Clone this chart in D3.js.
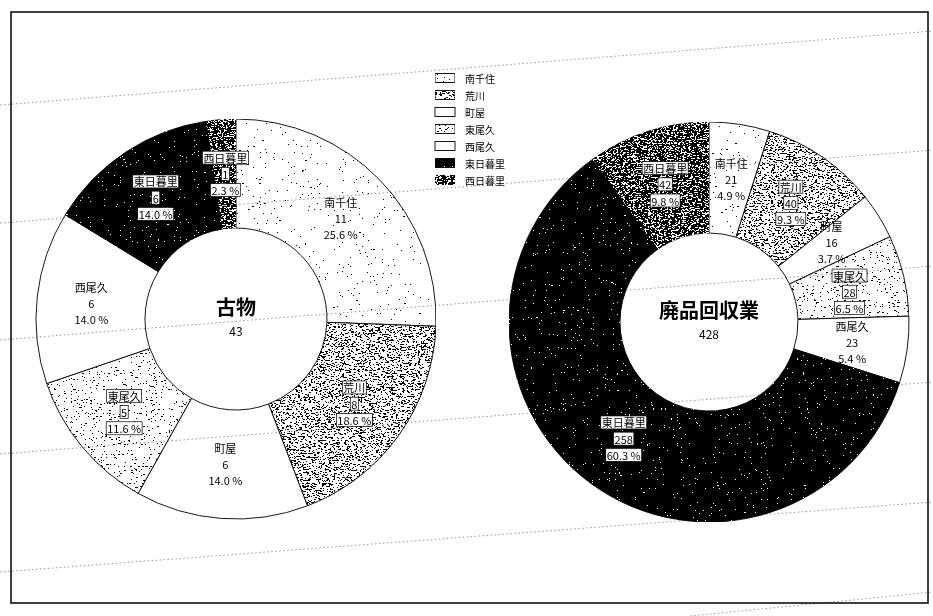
<!DOCTYPE html>
<html>
<head>
<meta charset="utf-8">
<script src="https://cdn.jsdelivr.net/npm/d3@7"></script>
<style>
  body { margin: 0; background: #fff; }
  svg { display: block; }
  text { font-family: "Noto Sans CJK JP", "Noto Sans", sans-serif; fill: #000; }
</style>
</head>
<body>
<svg id="chart" width="933" height="616"></svg>
<script>
// Districts (legend order, also slice order clockwise from 12 o'clock)
const areas = ["南千住", "荒川", "町屋", "東尾久", "西尾久", "東日暮里", "西日暮里"];
// Counts per district
const kobutsuValues = [11, 8, 6, 5, 6, 6, 1];        // 古物
const haihinValues  = [21, 40, 16, 28, 23, 258, 42]; // 廃品回収業
const chartTitles = ["古物", "廃品回収業"];

// Hatch texture used for each district, in the same order as `areas`
const areaTextures = ["sparse", "dense", "plain", "medium", "plain", "black", "dark"];

const textureSpec = {
  sparse: { base: "#fff", ink: "#000", cover: 0.25, seed: 3,  freq: "0.35 1.3" },
  medium: { base: "#fff", ink: "#000", cover: 0.31, seed: 7,  freq: "0.4 1.3" },
  dense:  { base: "#fff", ink: "#000", cover: 0.42, seed: 11, freq: "0.45 1.3" },
  dark:   { base: "#000", ink: "#fff", cover: 0.45, seed: 5,  freq: "0.5 1.3" },
  black:  { base: "#000", ink: "#fff", cover: 0.25, seed: 9,  freq: "0.5 1.4" },
  plain:  { base: "#fff" }
};

const svg = d3.select("#chart");
const defs = svg.append("defs");

// Stipple filters: thresholded noise specks clipped to the shape
Object.entries(textureSpec).forEach(([key, t]) => {
  if (key === "plain") return;
  const f = defs.append("filter")
    .attr("id", "tex-" + key)
    .attr("color-interpolation-filters", "sRGB")
    .attr("x", 0).attr("y", 0).attr("width", 1).attr("height", 1);
  f.append("feTurbulence")
    .attr("type", "fractalNoise")
    .attr("baseFrequency", t.freq)
    .attr("numOctaves", 2)
    .attr("seed", t.seed)
    .attr("result", "noise");
  f.append("feColorMatrix")
    .attr("in", "noise").attr("type", "matrix")
    .attr("values", "0 0 0 0 0  0 0 0 0 0  0 0 0 0 0  -1 0 0 0 1")
    .attr("result", "inv");
  const n = 100, k = Math.round(t.cover * n);
  const table = d3.range(n).map(i => (i >= n - k ? 1 : 0)).join(" ");
  f.append("feComponentTransfer").attr("in", "inv").attr("result", "mask")
    .append("feFuncA").attr("type", "discrete").attr("tableValues", table);
  f.append("feFlood").attr("flood-color", t.ink).attr("result", "ink");
  f.append("feComposite").attr("in", "ink").attr("in2", "mask").attr("operator", "in").attr("result", "specks");
  f.append("feComposite").attr("in", "specks").attr("in2", "SourceAlpha").attr("operator", "in").attr("result", "clipped");
  const m = f.append("feMerge");
  m.append("feMergeNode").attr("in", "SourceGraphic");
  m.append("feMergeNode").attr("in", "clipped");
});

const texOf = d3.scaleOrdinal().domain(areas).range(areaTextures);
const fillOf = name => textureSpec[texOf(name)].base;
const filterOf = name => texOf(name) === "plain" ? null : `url(#tex-${texOf(name)})`;

// Outer frame
svg.append("rect")
  .attr("x", 11).attr("y", 12).attr("width", 917).attr("height", 591)
  .attr("fill", "#fff").attr("stroke", "#000").attr("stroke-width", 1.5);

const donuts = [
  { title: chartTitles[0], values: kobutsuValues, cx: 236, cy: 319, ro: 200, ri: 91 },
  { title: chartTitles[1], values: haihinValues,  cx: 709, cy: 322, ro: 200, ri: 89 }
];

const pie = d3.pie().sort(null).value(d => d.value).startAngle(0).endAngle(2 * Math.PI);
const pct = d3.format(".1f");
const LABEL_SIZE = 11, LINE_STEP = 16.2;
const BLOCK_H = 3 * LINE_STEP;

// Width of a string at label size
const probe = svg.append("text").attr("font-size", LABEL_SIZE).attr("visibility", "hidden");
const measure = s => { probe.text(s); return probe.node().getComputedTextLength(); };

donuts.forEach(cfg => {
  const rows = areas.map((name, i) => ({ name, value: cfg.values[i] }));
  const total = d3.sum(rows, d => d.value);
  const arcs = pie(rows);
  const arc = d3.arc().innerRadius(cfg.ri).outerRadius(cfg.ro);

  const g = svg.append("g");

  g.selectAll("path.slice")
    .data(arcs)
    .join("path")
    .attr("class", "slice")
    .attr("transform", `translate(${cfg.cx},${cfg.cy})`)
    .attr("d", arc)
    .attr("fill", d => fillOf(d.data.name))
    .attr("filter", d => filterOf(d.data.name))
    .attr("stroke", "#000")
    .attr("stroke-width", 0.9)
    .attr("stroke-linejoin", "round");

  // Slice label blocks at the slice centroids
  const labels = arcs.map(d => {
    const [lx, ly] = arc.centroid(d);
    const lines = [d.data.name, String(d.data.value), pct(d.data.value / total * 100) + " %"];
    return {
      x: cfg.cx + lx, y: cfg.cy + ly, lines,
      tex: texOf(d.data.name),
      w: d3.max(lines, measure) + 4
    };
  });

  // Nudge neighbouring blocks apart vertically when they collide
  for (let iter = 0; iter < 20; iter++) {
    let moved = false;
    for (let i = 0; i < labels.length; i++) {
      for (let j = i + 1; j < labels.length; j++) {
        const a = labels[i], b = labels[j];
        const xOverlap = Math.abs(a.x - b.x) < (a.w + b.w) / 2;
        const dy = b.y - a.y;
        const need = BLOCK_H + 1;
        if (xOverlap && Math.abs(dy) < need) {
          const push = (need - Math.abs(dy)) / 2;
          const s = dy >= 0 ? 1 : -1;
          a.y -= s * push; b.y += s * push;
          moved = true;
        }
      }
    }
    if (!moved) break;
  }

  labels.forEach(L => {
    const boxes = g.append("g");
    const t = g.append("text")
      .attr("text-anchor", "middle")
      .attr("dominant-baseline", "central")
      .attr("font-size", LABEL_SIZE);
    L.lines.forEach((s, j) => {
      const ly2 = L.y + (j - 1) * LINE_STEP;
      const span = t.append("tspan").attr("x", L.x).attr("y", ly2).text(s);
      if (L.tex !== "plain") {
        const w = span.node().getComputedTextLength();
        boxes.append("rect")
          .attr("x", L.x - w / 2 - 1).attr("y", ly2 - LABEL_SIZE / 2 - 1)
          .attr("width", w + 2).attr("height", LABEL_SIZE + 2)
          .attr("fill", "#fff")
          .attr("stroke", L.tex === "sparse" ? "none" : "#000")
          .attr("stroke-width", 0.7);
      }
    });
  });

  // Centre caption: category name with its total below
  const c = g.append("text")
    .attr("text-anchor", "middle")
    .attr("dominant-baseline", "central");
  c.append("tspan")
    .attr("x", cfg.cx).attr("y", cfg.cy - 13)
    .attr("font-size", 20).attr("font-weight", 700)
    .text(cfg.title);
  c.append("tspan")
    .attr("x", cfg.cx).attr("y", cfg.cy + 11)
    .attr("font-size", 12)
    .text(total);
});
probe.remove();

// Legend
const legendY = d3.scalePoint().domain(areas).range([78, 180]);
const legend = svg.append("g");
areas.forEach(name => {
  const y = legendY(name);
  legend.append("rect")
    .attr("x", 435).attr("y", y - 4.5).attr("width", 20).attr("height", 9)
    .attr("fill", fillOf(name))
    .attr("filter", filterOf(name))
    .attr("stroke", "#000").attr("stroke-width", 0.9);
  legend.append("text")
    .attr("x", 465).attr("y", y)
    .attr("dominant-baseline", "central")
    .attr("font-size", 10)
    .text(name);
});

// Faint ruled guide lines running across the sheet
const rules = [[0, 105, 933, 31], [0, 223, 933, 150], [0, 340, 933, 266],
               [0, 454, 933, 382], [0, 572, 933, 502], [690, 616, 933, 592]];
svg.append("g")
  .style("mix-blend-mode", "multiply")
  .selectAll("line")
  .data(rules)
  .join("line")
  .attr("x1", d => d[0]).attr("y1", d => d[1])
  .attr("x2", d => d[2]).attr("y2", d => d[3])
  .attr("stroke", "#8a8a8a")
  .attr("stroke-width", 0.9)
  .attr("stroke-dasharray", "1.5 2.5");
</script>
</body>
</html>
